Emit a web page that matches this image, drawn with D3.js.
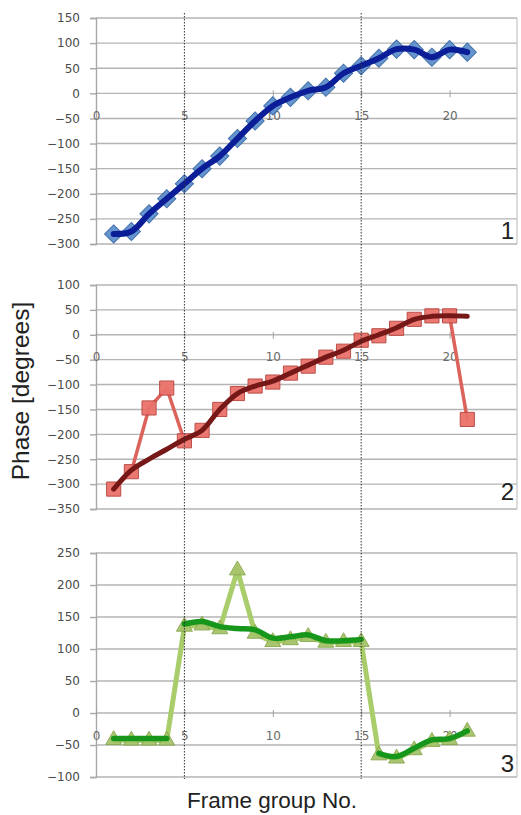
<!DOCTYPE html>
<html>
<head>
<meta charset="utf-8">
<script src="https://cdn.jsdelivr.net/npm/d3@7"></script>
<style>
  body { margin: 0; background: #fff; }
  svg { display: block; }
  .tick text { font-family: "DejaVu Sans", sans-serif; font-size: 12px; }
</style>
</head>
<body>
<div id="chart"></div>
<script>
// frame group numbers shared by the three panels
const frameNo = [1, 2, 3, 4, 5, 6, 7, 8, 9, 10, 11, 12, 13, 14, 15, 16, 17, 18, 19, 20, 21];
const xTicks = [0, 5, 10, 15, 20];

// panel 1
const phase1 = [-280, -275, -240, -210, -180, -150, -125, -90, -55, -25, -8, 5, 12, 40, 55, 70, 88, 87, 72, 87, 82];
const yTicks1 = [150, 100, 50, 0, -50, -100, -150, -200, -250, -300];

// panel 2: measured and corrected
const phase2raw = [-310, -275, -147, -107, -213, -192, -150, -118, -103, -95, -77, -63, -45, -33, -11, -2, 13, 31, 38, 38, -170];
const phase2fit = [-310, -272, -250, -230, -210, -192, -150, -118, -103, -93, -77, -61, -45, -31, -13, 0, 14, 31, 37, 38, 37];
const yTicks2 = [100, 50, 0, -50, -100, -150, -200, -250, -300, -350];

// panel 3: measured and corrected (corrected line breaks after frames 4 and 15)
const phase3raw = [-42, -43, -43, -43, 135, 137, 131, 223, 124, 111, 114, 119, 110, 111, 111, -66, -71, -58, -45, -42, -29];
const phase3fit = [-40, -40, -40, -40, 139, 143, 135, 132, 130, 117, 119, 122, 113, 113, 115, -63, -68, -55, -42, -40, -28];
const fitBreaks3 = [4, 15];
const yTicks3 = [250, 200, 150, 100, 50, 0, -50, -100];

const W = 521, H = 815;
const LEFT = 96, RIGHT = 517;

const svg = d3.select('#chart').append('svg')
    .attr('width', W)
    .attr('height', H);

const x = d3.scaleLinear().domain([0, 25]).range([LEFT, LEFT + 25 * 17.68]);

const panels = [
    { top: 18, bottom: 244, ticks: yTicks1, label: '1', labelY: 239,
      series: [
        { values: phase1, line: '#0b1e98', width: 6, smooth: true, marker: 'diamond', fill: '#5f90cc', stroke: '#3a69a8', lineOnTop: true }
      ] },
    { top: 285, bottom: 509, ticks: yTicks2, label: '2', labelY: 500,
      series: [
        { values: phase2raw, line: '#dc625c', width: 3.5, marker: 'square', fill: '#ea726b', stroke: '#b8453f' },
        { values: phase2fit, line: '#761818', width: 5, smooth: true }
      ] },
    { top: 553, bottom: 777, ticks: yTicks3, label: '3', labelY: 772,
      series: [
        { values: phase3raw, line: '#a9cd6b', width: 5, marker: 'triangle', fill: '#a6c46a', stroke: '#8aa84f' },
        { values: phase3fit, line: '#16961a', width: 5.5, smooth: true, breaks: fitBreaks3 }
      ] }
];

const symbols = {
    diamond: d3.symbol().type(d3.symbolSquare).size(165),
    square: d3.symbol().type(d3.symbolSquare).size(200),
    triangle: d3.symbol().type(d3.symbolTriangle).size(110)
};

// split a series into segments at the given frame numbers
function segments(values, breaks) {
    const pts = frameNo.map((f, i) => [f, values[i]]);
    if (!breaks) return [pts];
    const out = [];
    let start = 0;
    breaks.concat([frameNo[frameNo.length - 1]]).forEach(b => {
        const end = frameNo.indexOf(b) + 1;
        out.push(pts.slice(start, end));
        start = end;
    });
    return out;
}

panels.forEach(p => {
    const y = d3.scaleLinear()
        .domain(d3.extent(p.ticks))
        .range([p.bottom, p.top]);
    const g = svg.append('g');

    // horizontal gridlines
    g.selectAll('.grid')
        .data(p.ticks)
        .enter().append('line')
        .attr('x1', LEFT).attr('x2', RIGHT)
        .attr('y1', d => y(d)).attr('y2', d => y(d))
        .attr('stroke', '#b4b4b4')
        .attr('stroke-width', 1.4);

    // right border
    g.append('line')
        .attr('x1', RIGHT).attr('x2', RIGHT)
        .attr('y1', p.top).attr('y2', p.bottom)
        .attr('stroke', '#c4c4c4').attr('stroke-width', 1.2);

    // y axis
    const yAxis = g.append('g')
        .attr('transform', `translate(${LEFT},0)`)
        .call(d3.axisLeft(y).tickValues(p.ticks).tickSize(6).tickPadding(10));
    yAxis.select('.domain').attr('stroke', '#a8a8a8').attr('stroke-width', 1.4);
    yAxis.selectAll('.tick line').attr('stroke', '#a8a8a8').attr('stroke-width', 1.4);
    yAxis.selectAll('.tick text').attr('fill', '#4a4a4a');

    // x axis sits on the zero line, labels below it
    const xAxis = g.append('g')
        .attr('transform', `translate(0,${y(0)})`)
        .call(d3.axisBottom(x).tickValues(xTicks).tickSize(4).tickPadding(14));
    xAxis.select('.domain').remove();
    xAxis.selectAll('.tick line').attr('stroke', '#a0a0a0').attr('y1', -3);
    xAxis.selectAll('.tick text').attr('fill', '#6a6a6a');

    p.series.forEach(s => {
        const line = d3.line()
            .x(d => x(d[0]))
            .y(d => y(d[1]))
            .curve(s.smooth ? d3.curveCatmullRom.alpha(0.5) : d3.curveLinear);
        const drawLine = () => {
            segments(s.values, s.breaks).forEach(seg => {
                g.append('path')
                    .attr('d', line(seg))
                    .attr('fill', 'none')
                    .attr('stroke', s.line)
                    .attr('stroke-width', s.width)
                    .attr('stroke-linejoin', 'round')
                    .attr('stroke-linecap', 'round');
            });
        };
        if (!s.lineOnTop) drawLine();
        if (s.marker) {
            g.selectAll(null)
                .data(frameNo.map((f, i) => [f, s.values[i]]))
                .enter().append('path')
                .attr('d', symbols[s.marker])
                .attr('transform', d => `translate(${x(d[0])},${y(d[1])})` + (s.marker === 'diamond' ? ' rotate(45)' : ''))
                .attr('fill', s.fill)
                .attr('stroke', s.stroke)
                .attr('stroke-width', 1)
                .attr('opacity', 0.95);
        }
        if (s.lineOnTop) drawLine();
    });

    // panel number
    g.append('text')
        .attr('x', 514)
        .attr('y', p.labelY)
        .attr('text-anchor', 'end')
        .attr('font-family', 'Liberation Sans, Arial, sans-serif')
        .attr('font-size', 24)
        .attr('fill', '#222')
        .text(p.label);
});

// dotted markers at frame 5 and 15 across all panels
svg.selectAll('.vmark')
    .data([5, 15])
    .enter().append('line')
    .attr('x1', d => x(d)).attr('x2', d => x(d))
    .attr('y1', 13).attr('y2', 779)
    .attr('stroke', '#333')
    .attr('stroke-width', 1)
    .attr('stroke-dasharray', '1.5,1.5');

// axis titles
svg.append('text')
    .attr('transform', 'translate(29,391) rotate(-90)')
    .attr('text-anchor', 'middle')
    .attr('font-family', 'Liberation Sans, Arial, sans-serif')
    .attr('font-size', 24.5)
    .attr('fill', '#222')
    .text('Phase [degrees]');

svg.append('text')
    .attr('x', 272)
    .attr('y', 808)
    .attr('text-anchor', 'middle')
    .attr('font-family', 'Liberation Sans, Arial, sans-serif')
    .attr('font-size', 22.5)
    .attr('fill', '#222')
    .text('Frame group No.');
</script>
</body>
</html>
